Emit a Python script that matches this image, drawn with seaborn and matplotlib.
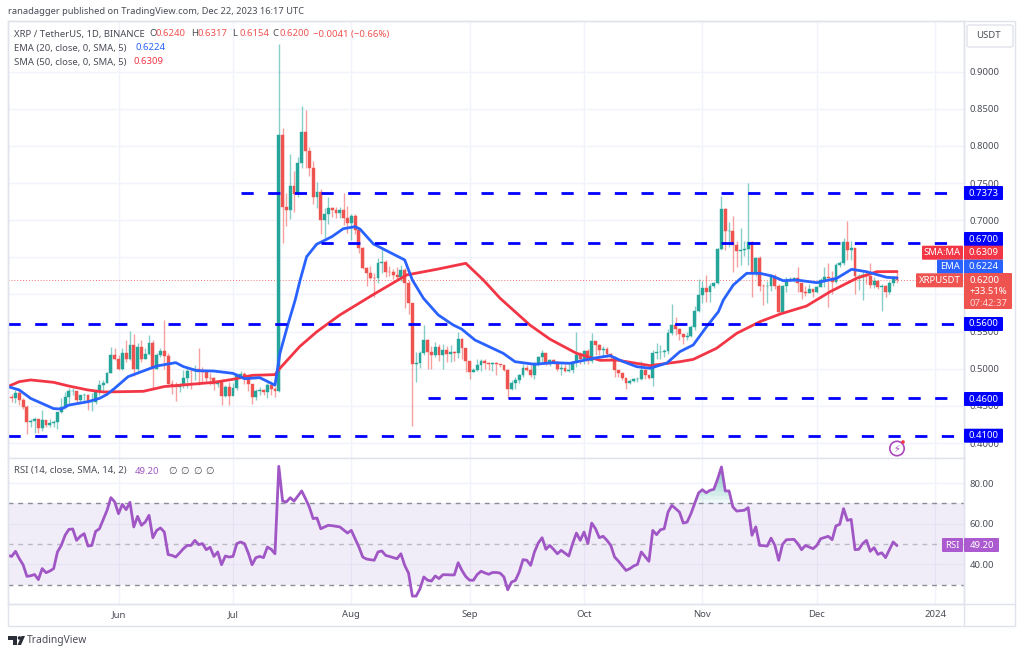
import numpy as np
import pandas as pd
import matplotlib.pyplot as plt
import seaborn as sns
from matplotlib.patches import Circle, FancyBboxPatch, Polygon, Rectangle


# -----------------------------
# Data (daily, May 4 -> Dec 22 2023)
# -----------------------------
FIRST_DAY = "2023-05-04"
FIRST_OPEN = 0.4625

closes = [
    # May
    .461, .467, .4585, .448, .4279, .4298, .432, .42, .431, .4245, .427, .428, .4423, .449,
    .4625, .4695, .4698, .4585, .4643, .465, .455, .4555, .4695, .4775, .481, .494, .5185, .5135,
    # Jun
    .5, .5208, .5136, .532, .5, .5297, .5135, .5197, .5343, .5, .5185, .5235, .5175, .4797, .4785,
    .476, .478, .4875, .4975, .4965, .5, .4965, .496, .4875, .487, .48, .484, .4635, .476, .4635,
    # Jul
    .4735, .49, .4925, .487, .4795, .4625, .4695, .4715, .4685, .4785, .4725, .47, .8148, .7183,
    .7135, .7466, .7354, .7775, .8193, .7933, .77, .7317, .7376, .7003, .7084, .7161, .7135, .7102,
    .7135, .7034, .6959,
    # Aug
    .7054, .6869, .6622, .6353, .6285, .6226, .622, .642, .6435, .6307, .6305, .6263, .6235, .633,
    .6151, .589, .5064, .5075, .5208, .5387, .5221, .519, .5297, .518, .5252, .5197, .5225, .5215,
    .54, .5275, .5104,
    # Sep
    .496, .4985, .505, .5105, .5075, .5065, .508, .506, .5045, .4985, .4723, .4812, .4855, .4918,
    .5006, .4985, .4915, .5073, .5154, .5209, .506, .5113, .5088, .5, .5015, .4975, .4985, .5085,
    .5184, .5125,
    # Oct
    .5237, .51, .5378, .532, .5252, .5265, .5197, .5153, .4977, .4939, .488, .4802, .4835, .4858,
    .486, .4985, .491, .4875, .5208, .5222, .5225, .524, .5477, .5589, .5535, .547, .5423, .5447,
    .5566, .5778, .5993,
    # Nov
    .6083, .603, .6118, .6151, .6608, .7148, .6855, .686, .6667, .6586, .66, .6608, .6703, .6285,
    .6487, .6118, .611, .611, .6249, .611, .5768, .6118, .6195, .6215, .6225, .6152, .6038, .6025,
    .6075, .604,
    # Dec
    .6105, .6195, .623, .622, .617, .6397, .642, .6711, .6599, .662, .6249, .6255, .6265, .625,
    .6128, .618, .6105, .611, .604, .6151, .6241, .62,
]

highs = [
    .4659, .4714, .4714, .46, .4507, .4319, .4355, .431, .4444, .431, .4323, .431, .4423, .461,
    .4682, .4745, .4736, .4705, .4637, .4669, .4655, .4669, .4714, .4849, .4849, .4961, .5297, .5274,
    .5183, .5274, .5382, .5507, .5462, .5351, .5387, .5274, .5453, .5387, .5212, .5274, .566, .5208,
    .4853, .4817, .4807, .4983, .5006, .4983, .5051, .5274, .5029, .4961, .4938, .4893, .4849, .4817,
    .4781, .4817,
    .4805, .4947, .4965, .496, .488, .48, .4725, .476, .473, .481, .479, .476, .9375, .8238, .7362,
    .7892, .7663, .7849, .8543, .8485, .7982, .7798, .752, .7417, .7161, .7309, .718, .718, .718,
    .7363, .719,
    .709, .709, .687, .6635, .637, .6384, .6285, .649, .6645, .647, .638, .634, .6375, .64, .6355,
    .619, .589, .523, .5245, .559, .5395, .53, .5355, .533, .533, .531, .5325, .5245, .5499, .541, .528,
    .5105, .5005, .5125, .513, .5125, .5085, .5085, .5085, .5055, .505, .4995, .4846, .489, .4935,
    .506, .5045, .505, .5095, .517, .5252, .5215, .5125, .513, .51, .507, .507, .506, .5105, .5495, .523,
    .525, .5265, .5486, .5375, .533, .531, .529, .521, .516, .498, .494, .485, .486, .487, .4885,
    .511, .5, .49, .5255, .5345, .532, .526, .554, .5868, .57, .555, .547, .55, .559, .5845, .6206,
    .6182, .6263, .6151, .617, .662, .7327, .716, .6981, .7062, .6715, .6891, .6715, .7497, .672,
    .651, .652, .614, .618, .6275, .6275, .614, .613, .624, .624, .624, .6374, .613, .6115, .614, .607,
    .6115, .6225, .637, .6428, .631, .642, .645, .6758, .6994, .672, .662, .627, .631, .631, .6428,
    .623, .62, .614, .613, .618, .6255, .6317,
]

lows = [
    .4556, .4543, .4511, .4453, .4116, .4211, .4135, .4135, .4165, .422, .4211, .4211, .4184, .4399,
    .4453, .4534, .4646, .4543, .4534, .457, .4444, .4435, .4525, .4646, .4691, .4804, .4938, .512,
    .4985, .4985, .5095, .512, .4902, .4938, .5095, .5125, .5183, .4737, .4995, .5162, .4995, .479,
    .4655, .4561, .4691, .4737, .4737, .4723, .4849, .4781, .4817, .4804, .4781, .4714, .4759, .4511,
    .4624, .4511,
    .468, .472, .4875, .479, .47, .452, .4579, .464, .464, .46, .465, .462, .469, .67, .6923, .7017,
    .7115, .7309, .77, .7708, .7595, .7219, .7161, .6811, .6756, .6945, .7045, .7026, .703, .693, .6823,
    .6734, .6815, .6555, .6345, .6113, .6205, .5971, .6149, .629, .624, .625, .621, .6195, .6185,
    .5815, .5733, .4229, .4826, .5006, .5185, .4999, .4999, .5155, .51, .5, .509, .509, .5105, .514,
    .5125, .495,
    .486, .4955, .497, .497, .5, .4985, .497, .492, .503, .4965, .4602, .471, .4723, .481, .4895,
    .497, .4893, .4865, .5035, .508, .505, .504, .506, .4975, .4915, .496, .496, .4945, .502, .507,
    .507, .506, .508, .518, .5185, .517, .516, .512, .4885, .4895, .485, .4729, .479, .482, .4825,
    .485, .486, .486, .4771, .5125, .5125, .516, .52, .545, .545, .5387, .5331, .539, .543, .552, .576,
    .5881, .5903, .5905, .609, .614, .66, .66, .664, .6308, .6375, .64, .652, .6396, .5971, .625, .605,
    .5857, .588, .6045, .6075, .5755, .576, .603, .618, .617, .604, .5935, .5985, .602, .596,
    .6025, .6095, .6095, .5828, .601, .615, .637, .64, .647, .647, .6007, .606, .5926, .614, .609,
    .609, .607, .5782, .597, .601, .611, .6154,
]

# moving averages, read at days counted from Jun 1
ema_days = [-29, -26, -23, -17, -15, -13, -8, -5, -3, -1, 2.5, 10, 15, 17, 20.5, 25, 30, 33, 37, 41,
            42.3, 44.5, 46.3, 47.6, 49.3, 51.9, 55.9, 58.9, 62, 63.3, 66.8, 75, 77, 79.9, 83.8, 87.7,
            89.9, 93.4, 100.8, 103.9, 109, 113.9, 118.3, 124.4, 128.8, 132.3, 135.8, 139.3, 143.7,
            147.1, 150.6, 154.1, 157.2, 158.5, 161.1, 164.6, 168.1, 171.2, 174.2, 177.7, 183, 188.2,
            192.1, 196, 201.3, 204]
ema_vals = [.476, .4714, .46, .4463, .4458, .4511, .4556, .4601, .4655, .4737, .4893, .5037, .5082,
            .5029, .4974, .4969, .4938, .4866, .4880, .4779, .5208, .5615, .5926, .6195, .6509, .6676,
            .6778, .6886, .6913, .688, .668, .6465, .6195, .5949, .5724, .5589, .5535, .5387, .5208,
            .5095, .506, .5082, .5073, .5141, .5176, .5095, .5028, .5006, .5077, .523, .532, .5566,
            .5768, .5926, .6128, .6285, .6285, .6249, .6186, .6195, .6159, .6218, .6339, .6307, .6231,
            .6224]

sma_days = [-29, -26, -23, -17, -13, -8, -4, 6.5, 12, 25, 30, 35, 41, 42.3, 47.5, 52, 58, 66.8, 75.5,
            83.4, 91, 95.6, 100, 107.8, 113, 120, 126.2, 130.6, 139.3, 147.1, 150.6, 156.7, 162,
            168.1, 173.4, 180.3, 186.5, 193.4, 198.7, 204]
sma_vals = [.476, .4826, .4849, .4817, .4767, .4714, .4687, .4696, .476, .4817, .4858, .4911, .4921,
            .5006, .53, .55, .5724, .6, .6263, .6339, .642, .6195, .5949, .5589, .54, .5208, .5113,
            .5117, .5042, .5095, .5126, .5275, .5477, .5634, .5737, .5845, .6038, .6218, .6307, .6309]

# RSI daily from May 3
rsi_vals = [
    44.4, 43.9, 46.4, 42.8, 39.8, 34.1, 34.4, 35, 32.5, 37.9, 35.9, 36.7, 37.9, 46.1, 49.3, 54.3, 57.2,
    57.4, 51.8, 53.8, 55.1, 49, 49.3, 56.2, 57.5, 62, 66.6, 72.8, 70.7,
    64.9, 69.5, 66.9, 70.5, 58.4, 63.6, 59.2, 60.8, 64.1, 53.1, 56.7, 57.9, 55.9, 44.8, 44.4, 43.6, 45.6,
    47.7, 49.3, 49.3, 51.8, 49.7, 50.2, 47.2, 48.4, 43.9, 46.1, 39.8, 44.1, 43.6,
    43.9, 50.2, 51, 50.2, 45.6, 39.8, 43.3, 43.9, 43.3, 48.5, 47.4, 45.2, 88.2, 71.1, 70.7, 72.8, 71.1,
    73.6, 76.1, 72.3, 68.2, 62.5, 62.8, 57.5, 58.4, 59.2, 59, 58.7, 58.4, 56.9, 55.4,
    56.7, 52.6, 48.5, 43.6, 42.6, 42.3, 42, 46.1, 46.6, 44.4, 43.9, 43.3, 42.8, 45.2, 39.5, 35.7, 24.4,
    24.4, 28, 33.8, 32.2, 31.8, 34.3, 33, 34.9, 34.9, 34.8, 34.8, 40.8, 37, 34,
    32.2, 32.2, 35, 36.6, 35.8, 35.1, 36, 36, 35.7, 33.8, 27.5, 31.3, 32.1, 36.2, 42.3, 42, 39.5, 46.1,
    50.5, 53.1, 47.4, 49.3, 47.4, 45.2, 46.9, 45.5, 44.1, 50.2, 55.4, 51.8,
    55.9, 50.2, 60.3, 57.5, 53.1, 53.8, 51.8, 49.3, 43.6, 41.6, 39.3, 37, 37.9, 39.2, 40, 46.1, 43.8,
    41.5, 56.7, 54.6, 57, 57.5, 65.7, 69, 67.4, 65.7, 60.3, 60.8, 64.9, 70, 75.1,
    76.7, 75.2, 76.4, 76.9, 82, 87.9, 76.1, 76.1, 68.2, 66.2, 66.4, 66.6, 67.9, 54.3, 58.4, 49.3, 49.2,
    49, 52.9, 49.3, 42, 49.8, 52.1, 52.2, 52.3, 50.2, 47.2, 49.3, 48.5, 47.7,
    49.3, 52.6, 53.2, 53.8, 52.1, 58.9, 59.7, 67.4, 61.6, 62.1, 47.2, 47.4, 50.2, 51.8, 46.4, 48.2,
    44.9, 45.7, 43.3, 47.2, 51, 49.2,
]

# horizontal levels drawn by the author
level_vals = [0.7373, 0.67, 0.56, 0.46, 0.41]
level_from = ["2023-07-03", "2023-07-24", "2023-05-03", "2023-08-21", "2023-05-03"]
level_to = ["2024-01-05", "2024-01-05", "2024-01-08", "2024-01-05", "2024-01-08"]

price_ticks = [0.40, 0.45, 0.50, 0.55, 0.60, 0.65, 0.70, 0.75, 0.80, 0.85, 0.90]
hidden_price_labels = [0.60, 0.65]  # sit behind the price tags in the original
rsi_ticks = [40, 60, 80]
month_ticks = ["2023-06-01", "2023-07-01", "2023-08-01", "2023-09-01", "2023-10-01", "2023-11-01",
               "2023-12-01", "2024-01-01"]
month_labels = ["Jun", "Jul", "Aug", "Sep", "Oct", "Nov", "Dec", "2024"]

# -----------------------------
# Colors
# -----------------------------
UP = "#26a69a"
DOWN = "#ef5350"
EMA_COLOR = "#2962ff"
SMA_COLOR = "#f23645"
LEVEL_COLOR = "#0000ff"
RSI_COLOR = "#a056c5"
GRID = "#f0f3fa"
BORDER = "#e0e3eb"
TEXT = "#4a4d57"

W, H = 1024, 655
FS = 6.85


def px_axes(fig, left, top, right, bottom):
    return fig.add_axes([left / W, 1 - bottom / H, (right - left) / W, (bottom - top) / H])


def tag(ov, x0, x1, yc, h, color, label, text_color="white", fontsize=FS):
    ov.add_patch(FancyBboxPatch((x0 + 1, yc - h / 2 + 1), x1 - x0 - 2, h - 2,
                                boxstyle="round,pad=1", fc=color, ec=color, lw=0, zorder=5))
    ov.text((x0 + x1) / 2, yc, label, color=text_color, fontsize=fontsize, ha="center", va="center",
            zorder=6)


def main():
    sns.set_theme(style="white")
    plt.rcParams["font.family"] = ["Noto Sans", "DejaVu Sans"]

    dates = pd.date_range(FIRST_DAY, periods=len(closes), freq="D")
    df = pd.DataFrame({"date": dates, "close": closes, "high": highs, "low": lows})
    df["open"] = df["close"].shift(1).fillna(FIRST_OPEN)
    colors = np.where(df["close"] >= df["open"], UP, DOWN)

    jun1 = pd.Timestamp("2023-06-01")
    ema = pd.DataFrame({"date": jun1 + pd.to_timedelta(ema_days, unit="D"), "val": ema_vals})
    sma = pd.DataFrame({"date": jun1 + pd.to_timedelta(sma_days, unit="D"), "val": sma_vals})
    rsi = pd.DataFrame({"date": pd.date_range("2023-05-03", periods=len(rsi_vals), freq="D"), "val": rsi_vals})

    fig = plt.figure(figsize=(W / 100, H / 100), dpi=100, facecolor="white")
    ax = px_axes(fig, 8, 21, 964, 458)
    ax_rsi = px_axes(fig, 8, 458, 964, 604)

    xlim = (jun1 + pd.Timedelta(days=-28.96), jun1 + pd.Timedelta(days=221.56))
    ticks = pd.to_datetime(month_ticks)

    # -------------------------
    # Price pane
    # -------------------------
    ax.vlines(df["date"], df["low"], df["high"], colors=colors, lw=1.0, alpha=0.55, zorder=2)
    ax.bar(df["date"], (df["close"] - df["open"]).abs(), bottom=df[["open", "close"]].min(axis=1),
           width=0.75, color=colors, edgecolor=colors, lw=0.3, zorder=3)

    sns.lineplot(data=sma, x="date", y="val", ax=ax, color=SMA_COLOR, lw=2.0, errorbar=None, zorder=4)
    sns.lineplot(data=ema, x="date", y="val", ax=ax, color=EMA_COLOR, lw=2.0, errorbar=None, zorder=5)

    for val, start, end in zip(level_vals, level_from, level_to):
        ax.plot(pd.to_datetime([start, end]), [val, val], color=LEVEL_COLOR, lw=2.0,
                linestyle=(0, (4.4, 5.2)), zorder=6)
    ax.axhline(closes[-1], color=DOWN, lw=0.7, ls=(0, (1, 2)), alpha=0.8, zorder=1)

    ax.set_xlim(xlim)
    ax.set_ylim(0.3798, 0.9683)
    ax.set_yticks(price_ticks)
    ax.set_yticklabels(["" if t in hidden_price_labels else f"{t:.4f}" for t in price_ticks])
    ax.set_xticks(ticks)
    ax.tick_params(axis="x", labelbottom=False, length=0)

    # -------------------------
    # RSI pane
    # -------------------------
    ax_rsi.axhspan(30, 70, color="#7e57c2", alpha=0.1, lw=0, zorder=1)
    for lvl, alpha in ((70, 0.85), (50, 0.45), (30, 0.85)):
        ax_rsi.axhline(lvl, color="#787b86", lw=1.0, ls=(0, (3.5, 3.5)), alpha=alpha, zorder=2)

    # overbought gradient in November only
    nov = rsi[(rsi["date"] >= "2023-10-30") & (rsi["date"] <= "2023-11-12")]
    for lvl in np.arange(70, 88, 2):
        ax_rsi.fill_between(nov["date"], lvl, nov["val"], where=nov["val"] > lvl, color=UP,
                            alpha=0.07, lw=0, interpolate=True, zorder=2)

    sns.lineplot(data=rsi, x="date", y="val", ax=ax_rsi, color=RSI_COLOR, lw=2.0, errorbar=None, zorder=4)

    ax_rsi.set_xlim(xlim)
    ax_rsi.set_ylim(20.5, 92.3)
    ax_rsi.set_yticks(rsi_ticks)
    ax_rsi.set_yticklabels([f"{t:.2f}" for t in rsi_ticks])
    ax_rsi.set_xticks(ticks)
    ax_rsi.set_xticklabels(month_labels)

    for a in (ax, ax_rsi):
        a.set_xlabel("")
        a.set_ylabel("")
        a.grid(True, color=GRID, lw=1.0)
        a.set_axisbelow(True)
        a.yaxis.tick_right()
        a.tick_params(axis="y", length=0, pad=4.2, labelsize=FS, labelcolor=TEXT)
        a.tick_params(axis="x", length=0, pad=4.5, labelsize=FS, labelcolor=TEXT)
        for s in a.spines.values():
            s.set_color(BORDER)
            s.set_linewidth(1.0)
    ax_rsi.get_xticklabels()[-1].set_fontweight("bold")

    # -------------------------
    # Overlay in pixel coordinates (legend texts, price tags)
    # -------------------------
    ov = fig.add_axes([0, 0, 1, 1], facecolor="none")
    ov.set_xlim(0, W)
    ov.set_ylim(H, 0)
    ov.axis("off")

    ov.add_patch(Rectangle((8, 21), 1007, 605, fc="none", ec=BORDER, lw=1.0))
    ov.plot([964, 964], [21, 626], color=BORDER, lw=1.0)
    ov.plot([8, 1015], [604, 604], color=BORDER, lw=1.0)

    ov.text(8, 12, "ranadagger published on TradingView.com, Dec 22, 2023 16:17 UTC", color=TEXT,
            fontsize=6.7, va="center")

    ov.text(14.5, 34, "XRP / TetherUS, 1D, BINANCE", color=TEXT, fontsize=FS, va="center")
    for x, letter, lx, val in [(149, "O", 156, "0.6240"), (191, "H", 198, "0.6317"),
                               (232.5, "L", 239, "0.6154"), (272, "C", 279, "0.6200")]:
        ov.text(x, 34, letter, color=TEXT, fontsize=FS, va="center")
        ov.text(lx, 34, val, color=DOWN, fontsize=FS, va="center")
    ov.text(313, 34, "\u22120.0041 (\u22120.66%)", color=DOWN, fontsize=FS, va="center")
    ov.text(14.5, 48, "EMA (20, close, 0, SMA, 5)", color=TEXT, fontsize=FS, va="center")
    ov.text(135, 48, "0.6224", color=EMA_COLOR, fontsize=FS, va="center")
    ov.text(14.5, 62, "SMA (50, close, 0, SMA, 5)", color=TEXT, fontsize=FS, va="center")
    ov.text(134, 62, "0.6309", color=SMA_COLOR, fontsize=FS, va="center")

    ov.text(14.5, 471, "RSI (14, close, SMA, 14, 2)", color=TEXT, fontsize=FS, va="center")
    ov.text(135, 471, "49.20", color=RSI_COLOR, fontsize=FS, va="center")
    for x in (168, 180.5, 193, 205.5):
        ov.text(x, 471, "\u2205", color=TEXT, fontsize=7, va="center", family="DejaVu Sans")

    # USDT button
    ov.add_patch(FancyBboxPatch((969, 27), 42, 18, boxstyle="round,pad=2", fc="white", ec=BORDER, lw=1.0,
                                zorder=5))
    ov.text(988, 36, "USDT", color=TEXT, fontsize=FS, ha="center", va="center", zorder=6)

    # right axis tags
    for yc, label in [(193, "0.7373"), (239, "0.6700"), (324, "0.5600"), (399, "0.4600"), (435.7, "0.4100")]:
        tag(ov, 964, 1003, yc, 14, LEVEL_COLOR, label)
    tag(ov, 922, 963, 252.7, 14, SMA_COLOR, "SMA:MA")
    tag(ov, 964, 1003, 252.7, 14, SMA_COLOR, "0.6309")
    tag(ov, 937, 963, 266.7, 14, EMA_COLOR, "EMA")
    tag(ov, 964, 1003, 266.7, 14, EMA_COLOR, "0.6224")
    tag(ov, 916, 963, 280.3, 14, DOWN, "XRPUSDT")
    ov.add_patch(FancyBboxPatch((965, 274), 46, 34, boxstyle="round,pad=1", fc=DOWN, ec=DOWN, lw=0, zorder=5))
    ov.text(970, 280.5, "0.6200", color="white", fontsize=FS, va="center", zorder=6)
    ov.text(970, 292, "+33.51%", color="white", fontsize=FS, va="center", zorder=6)
    ov.text(970, 303, "07:42:37", color="#fbd9d8", fontsize=FS, va="center", zorder=6)
    tag(ov, 942, 963, 545, 14, "#ab5bcf", "RSI")
    tag(ov, 964, 999, 545, 14, "#ab5bcf", "49.20")

    # lightning icon
    ov.add_patch(Circle((897, 448.5), 7.2, fc="white", ec="#ab47bc", lw=1.2, zorder=5))
    ov.text(897, 448.5, "\u26a1", color="#ab47bc", fontsize=7, ha="center", va="center",
            family="DejaVu Sans", zorder=6)
    ov.add_patch(Circle((903, 442), 1.8, fc="#f23645", ec="none", zorder=7))

    # TradingView mark
    mark = "#2a2e39"
    ov.add_patch(Polygon([(8, 636), (17, 636), (17, 645), (13, 645), (13, 639.5), (8, 639.5)], fc=mark, ec="none"))
    ov.add_patch(Circle((19.5, 638), 1.8, fc=mark, ec="none"))
    ov.add_patch(Polygon([(21.5, 636), (25, 636), (21, 645), (17.5, 645)], fc=mark, ec="none"))
    ov.text(27, 640.5, "TradingView", color=TEXT, fontsize=7.4, va="center")

    fig.savefig("out.png", dpi=100)
    plt.close(fig)


if __name__ == "__main__":
    main()
